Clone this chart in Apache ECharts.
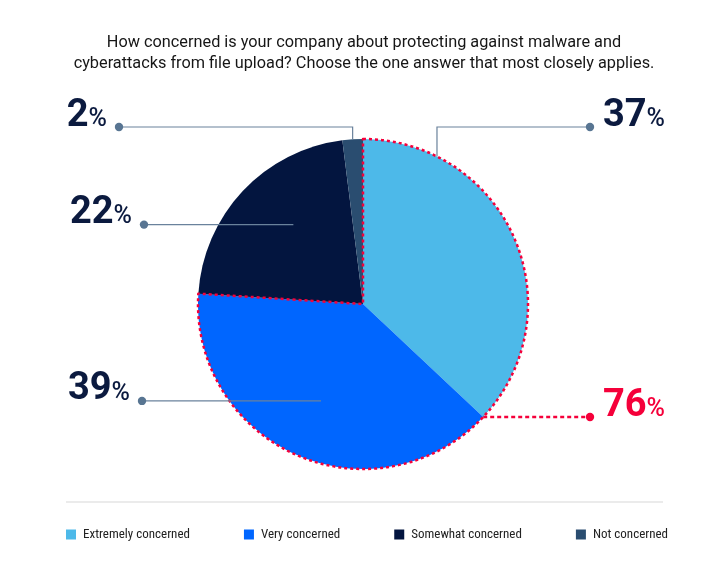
<!DOCTYPE html>
<html><head><meta charset="utf-8">
<script src="https://cdn.jsdelivr.net/npm/echarts@6/dist/echarts.min.js"></script>
<style>html,body{margin:0;padding:0;background:#fff}#c{width:728px;height:562px}</style>
</head><body><div id="c"></div>
<script>
// ---- data ----
const titleLines = ['How concerned is your company about protecting against malware and',
  'cyberattacks from file upload? Choose the one answer that most closely applies.'];
const categories = ['Extremely concerned', 'Very concerned', 'Somewhat concerned', 'Not concerned'];
const values = [37, 39, 22, 2];
const highlightNames = ['Extremely + Very concerned', 'Other'];
const highlightValues = [76, 24];

// ---- styles / layout ----
const colors = ['#4DB9E9', '#0066FF', '#03153F', '#2A4D70'];
const RED = '#F5003A';
const NAVY = '#0B1A3F';
const LINE = '#6A829C';
const DOT = '#587592';
const FONT = 'Roboto, "Noto Sans", sans-serif';
const NARROW = '"Liberation Sans Narrow", "Roboto Condensed", Roboto, sans-serif';
const C = [363, 304], R = 165;
// anchor position inside each slice (fraction of slice angle, fraction of radius), dot x / y
const spots = [
  { frac: 0.2, rf: 1, dx: 590, dy: 127, side: 'right', bend: true },
  { frac: 0.5, rf: 0.64, dx: 142, dy: null, side: 'left', bend: false },
  { frac: 0.57, rf: 0.64, dx: 144, dy: null, side: 'left', bend: false },
  { frac: 0.5, rf: 1, dx: 119, dy: 127, side: 'left', bend: true }
];
const hiSpot = { frac: 0.487, rf: 1, dx: 590, dy: null, side: 'right', bend: false };

function geometry(vals, spot, idx) {
  const total = vals.reduce((a, b) => a + b, 0);
  let cum = 0;
  for (let k = 0; k < idx; k++) cum += vals[k];
  const th = 2 * Math.PI * (cum + spot.frac * vals[idx]) / total;
  const a = [C[0] + spot.rf * R * Math.sin(th), C[1] - spot.rf * R * Math.cos(th)];
  const d = [spot.dx, spot.dy == null ? a[1] : spot.dy];
  const pts = spot.bend ? [a, [a[0], d[1]], d] : [a, [(a[0] + d[0]) / 2, a[1]], d];
  return { a, d, pts };
}

function layoutFor(vals, spotList) {
  return function (params) {
    const i = params.dataIndex;
    const s = spotList[i];
    if (!s) return {};
    const g = geometry(vals, s, i);
    return {
      x: s.side === 'right' ? g.d[0] + 13 : g.d[0] - 12,
      y: g.d[1] + 8,
      align: s.side === 'right' ? 'left' : 'right',
      verticalAlign: 'bottom',
      labelLinePoints: g.pts
    };
  };
}

function richFor(color) {
  return {
    n: { fontSize: 38, fontWeight: 700, fontFamily: FONT, color: color, lineHeight: 38, verticalAlign: 'bottom' },
    p: { fontSize: 25, fontWeight: 500, fontFamily: FONT, color: color, lineHeight: 25, verticalAlign: 'bottom', padding: [0, 0, 3, 0] }
  };
}

const dots = values.map((v, i) => geometry(values, spots[i], i).d).map(d => ({
  type: 'circle', shape: { cx: d[0], cy: d[1], r: 4.2 }, style: { fill: DOT }, z: 100
}));
const hd = geometry(highlightValues, hiSpot, 0).d;
dots.push({ type: 'circle', shape: { cx: hd[0], cy: hd[1], r: 4.2 }, style: { fill: RED }, z: 100 });

const chart = echarts.init(document.getElementById('c'), null, { renderer: 'canvas' });
chart.setOption({
  animation: false,
  backgroundColor: '#fff',
  title: {
    text: titleLines.join('\n'), left: 'center', top: 27,
    textStyle: { fontSize: 16.3, fontWeight: 'normal', color: '#161616', lineHeight: 21, fontFamily: FONT }
  },
  legend: {
    data: categories.map((c, i) => ({ name: c, itemStyle: { color: colors[i] } })),
    left: 66, top: 528, padding: 0, icon: 'rect', itemWidth: 10, itemHeight: 10, itemGap: 54,
    selectedMode: false,
    textStyle: { fontSize: 13, color: '#222', fontFamily: NARROW, padding: [0, 0, 0, 2] }
  },
  graphic: [
    { type: 'line', shape: { x1: 66, y1: 502, x2: 663, y2: 502 }, style: { stroke: '#EBEBEB', lineWidth: 2 } }
  ].concat(dots),
  series: [
    {
      type: 'pie', name: 'concern', center: C, radius: R, startAngle: 90, clockwise: true,
      avoidLabelOverlap: false, silent: true, emphasis: { disabled: true }, z: 2,
      itemStyle: { borderWidth: 0 },
      data: categories.map((c, i) => ({ name: c, value: values[i], itemStyle: { color: colors[i] } })),
      label: { show: false }, labelLine: { show: false }
    },
    {
      type: 'pie', name: 'highlight', center: C, radius: R, startAngle: 90, clockwise: true,
      avoidLabelOverlap: false, silent: true, emphasis: { disabled: true }, z: 3,
      data: [
        { name: highlightNames[0], value: highlightValues[0],
          itemStyle: { color: 'rgba(0,0,0,0)', borderColor: RED, borderWidth: 2.5, borderType: [3, 3] } },
        { name: highlightNames[1], value: highlightValues[1],
          itemStyle: { color: 'rgba(0,0,0,0)', borderWidth: 0 }, label: { show: false }, labelLine: { show: false } }
      ],
      label: { show: true, position: 'outside', formatter: p => `{n|${p.value}}{p|%}`, rich: richFor(RED) },
      labelLine: { show: true, lineStyle: { color: RED, width: 2.5, type: [4, 3] } },
      labelLayout: layoutFor(highlightValues, [hiSpot])
    },
    {
      type: 'pie', name: 'labels', center: C, radius: R, startAngle: 90, clockwise: true,
      avoidLabelOverlap: false, silent: true, emphasis: { disabled: true }, z: 4,
      itemStyle: { color: 'rgba(0,0,0,0)', borderWidth: 0 },
      data: categories.map((c, i) => ({ name: c, value: values[i] })),
      label: { show: true, position: 'outside', formatter: p => `{n|${p.value}}{p|%}`, rich: richFor(NAVY) },
      labelLine: { show: true, lineStyle: { color: LINE, width: 1.2 } },
      labelLayout: layoutFor(values, spots)
    }
  ]
});
</script></body></html>
